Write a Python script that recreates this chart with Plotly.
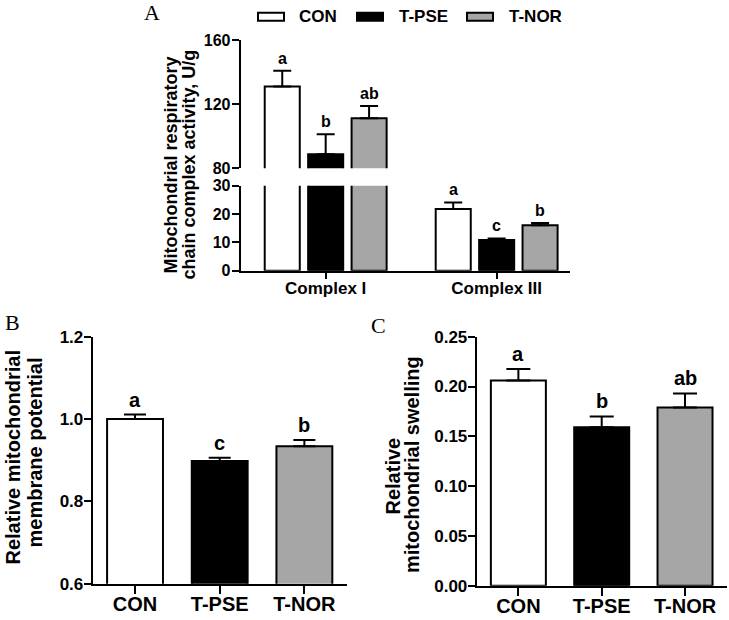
import plotly.graph_objects as go

# groups and fills
groups = ['CON', 'T-PSE', 'T-NOR']
fills = ['#ffffff', '#000000', '#a6a6a6']

# panel A: respiratory chain complex activity (U/g), broken axis 0-30 / 80-160
complexes = ['Complex I', 'Complex III']
a_mean = [[131.0, 21.8], [88.7, 10.8], [111.2, 16.0]]   # per group
a_sem = [[9.8, 2.3], [12.6, 0.6], [7.6, 0.8]]
a_letters = [['a', 'a'], ['b', 'c'], ['ab', 'b']]
a_low = [0, 30]
a_high = [80, 160]

# panel B: relative mitochondrial membrane potential
b_mean = [1.000, 0.898, 0.934]
b_sem = [0.011, 0.008, 0.015]
b_letters = ['a', 'c', 'b']

# panel C: relative mitochondrial swelling
c_mean = [0.206, 0.159, 0.179]
c_sem = [0.0115, 0.011, 0.014]
c_letters = ['a', 'b', 'ab']

FONT = 'Arial, Liberation Sans, sans-serif'
SERIF = 'Times New Roman, Liberation Serif, serif'
W, H = 729, 620


def px(x):
    return x / W


def py(y):
    return 1 - y / H


fig = go.Figure()

# ---- panel A ----
step, bw = 0.254, 0.205
for i, g in enumerate(groups):
    shift = (i - 1) * step
    for xa, ya in (('x', 'y'), ('x2', 'y2')):
        fig.add_trace(go.Bar(
            x=complexes, y=a_mean[i], name=g, xaxis=xa, yaxis=ya,
            width=bw, offset=shift - bw / 2, showlegend=False,
            marker=dict(color=fills[i], line=dict(color='black', width=2)),
            error_y=dict(type='data', array=a_sem[i], arrayminus=[0, 0], symmetric=False,
                         color='black', thickness=2, width=9)))
    for j in range(len(complexes)):
        top = a_mean[i][j] + a_sem[i][j]
        upper = a_mean[i][j] > a_low[1]
        fig.add_annotation(x=j + shift, y=top, xref='x2' if upper else 'x',
                           yref='y2' if upper else 'y', text=a_letters[i][j],
                           showarrow=False, yanchor='bottom', yshift=2,
                           font=dict(family=FONT, size=16, color='black', weight='bold'))

# ---- panels B and C ----
for xa, ya, mean, sem, letters, cap in (('x3', 'y3', b_mean, b_sem, b_letters, 11),
                                        ('x4', 'y4', c_mean, c_sem, c_letters, 12)):
    fig.add_trace(go.Bar(
        x=groups, y=mean, xaxis=xa, yaxis=ya, width=0.66, showlegend=False,
        marker=dict(color=fills, line=dict(color='black', width=2)),
        error_y=dict(type='data', array=sem, arrayminus=[0] * len(sem), symmetric=False,
                     color='black', thickness=2, width=cap)))
    for k, g in enumerate(groups):
        fig.add_annotation(x=g, y=mean[k] + sem[k], xref=xa, yref=ya, text=letters[k],
                           showarrow=False, yanchor='bottom', yshift=2,
                           font=dict(family=FONT, size=20, color='black', weight='bold'))

axis = dict(showline=True, linecolor='black', linewidth=2, ticks='outside',
            tickcolor='black', tickwidth=2, showgrid=False, zeroline=False)


def tf(size):
    return dict(family=FONT, size=size, color='black', weight='bold')


fig.update_layout(
    width=W, height=H, autosize=False,
    margin=dict(l=0, r=0, t=0, b=0, pad=0, autoexpand=False),
    paper_bgcolor='white', plot_bgcolor='white', barmode='overlay',
    xaxis=dict(axis, domain=[px(240.7), px(570)], anchor='y', type='category',
               categoryarray=complexes, range=[-0.497, 1.429], ticklen=6, tickfont=tf(17),
               ticklabelstandoff=-5),
    yaxis=dict(axis, domain=[py(270.7), py(185.7)], anchor='x', range=a_low,
               tickvals=[0, 10, 20, 30], ticklen=7, tickfont=tf(16), ticklabelstandoff=-2),
    xaxis2=dict(domain=[px(240.7), px(570)], anchor='y2', type='category',
                categoryarray=complexes, range=[-0.497, 1.429], visible=False),
    yaxis2=dict(axis, domain=[py(168.3), py(40)], anchor='x2', range=a_high,
                tickvals=[80, 120, 160], ticklen=7, tickfont=tf(16), ticklabelstandoff=-2),
    xaxis3=dict(axis, domain=[px(92.7), px(346.7)], anchor='y3', type='category',
                categoryarray=groups, range=[-0.5, 2.5], ticklen=8, tickfont=tf(20),
                ticklabelstandoff=-7),
    yaxis3=dict(axis, domain=[py(583.7), py(336.7)], anchor='x3', range=[0.6, 1.2],
                dtick=0.2, tickformat='.1f', ticklen=7, tickfont=tf(17), ticklabelstandoff=-3),
    xaxis4=dict(axis, domain=[px(476.7), px(726.7)], anchor='y4', type='category',
                categoryarray=groups, range=[-0.5, 2.5], ticklen=8, tickfont=tf(20),
                ticklabelstandoff=-7),
    yaxis4=dict(axis, domain=[py(585.7), py(336.7)], anchor='x4', range=[0, 0.25],
                dtick=0.05, tickformat='.2f', ticklen=7, tickfont=tf(17), ticklabelstandoff=-3),
)

# axis titles, one annotation per line
titles = [
    ('Mitochondrial respiratory', 170.5, 165, 18),
    ('chain complex activity, U/g', 188.5, 165, 18),
    ('Relative mitochondrial', 12.5, 457, 20),
    ('membrane potential', 34.5, 453, 20),
    ('Relative', 392.5, 476, 20),
    ('mitochondrial swelling', 412, 465, 20),
]
for text, x, y, size in titles:
    fig.add_annotation(x=px(x), y=py(y), xref='paper', yref='paper', text=text,
                       textangle=-90, showarrow=False, xanchor='center', yanchor='middle',
                       font=tf(size))

# panel letters
for text, x, y in (('A', 152, 12.5), ('B', 12.5, 322.5), ('C', 378.5, 325.5)):
    fig.add_annotation(x=px(x), y=py(y), xref='paper', yref='paper', text=text,
                       showarrow=False, xanchor='center', yanchor='middle',
                       font=dict(family=SERIF, size=22, color='black'))

# legend drawn by hand: box then label
box_x = [258, 357, 467]
text_x = [297, 397, 507]
for g, col, bx, tx in zip(groups, fills, box_x, text_x):
    fig.add_shape(type='rect', xref='paper', yref='paper', x0=px(bx), x1=px(bx + 26),
                  y0=py(20.7), y1=py(12.7), fillcolor=col, line=dict(color='black', width=2))
    fig.add_annotation(x=px(tx), y=py(16.7), xref='paper', yref='paper', text=g,
                       showarrow=False, xanchor='left', yanchor='middle', font=tf(17))

fig.write_html('out.html', config={'displayModeBar': False},
               post_script="document.body.style.margin='0';"
                           "document.body.style.overflow='hidden';")
